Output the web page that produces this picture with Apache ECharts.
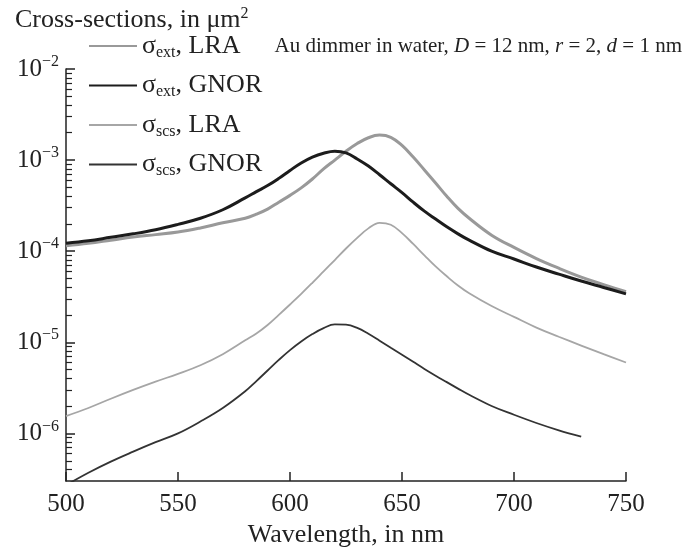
<!DOCTYPE html>
<html><head><meta charset="utf-8">
<script src="https://cdn.jsdelivr.net/npm/echarts@6/dist/echarts.min.js"></script>
<style>html,body{margin:0;padding:0;background:#fff}#c{width:690px;height:550px}</style>
</head><body><div id="c"></div>
<script>
// Wavelength grid (nm)
const wavelength = [500,510,520,530,540,550,560,570,580,585,590,595,600,605,610,615,620,625,630,635,640,645,650,655,660,665,670,675,680,690,700,710,720,730,740,750];
// Cross-sections (um^2)
const extLRA  = [1.15e-4,1.22e-4,1.32e-4,1.43e-4,1.52e-4,1.62e-4,1.80e-4,2.05e-4,2.3e-4,2.55e-4,2.9e-4,3.45e-4,4.1e-4,4.95e-4,6.2e-4,8.0e-4,1.0e-3,1.25e-3,1.52e-3,1.76e-3,1.88e-3,1.78e-3,1.45e-3,1.08e-3,7.8e-4,5.6e-4,4.0e-4,2.95e-4,2.3e-4,1.5e-4,1.1e-4,8.3e-5,6.5e-5,5.2e-5,4.3e-5,3.6e-5];
const extGNOR = [1.22e-4,1.30e-4,1.42e-4,1.55e-4,1.72e-4,1.97e-4,2.3e-4,2.85e-4,3.85e-4,4.5e-4,5.25e-4,6.3e-4,7.7e-4,9.3e-4,1.08e-3,1.19e-3,1.25e-3,1.2e-3,1.03e-3,8.6e-4,6.9e-4,5.5e-4,4.4e-4,3.45e-4,2.75e-4,2.25e-4,1.85e-4,1.55e-4,1.32e-4,1.0e-4,8.2e-5,6.7e-5,5.6e-5,4.7e-5,4.0e-5,3.4e-5];
const scsLRA  = [1.55e-6,1.9e-6,2.4e-6,3.0e-6,3.7e-6,4.5e-6,5.6e-6,7.4e-6,1.05e-5,1.25e-5,1.55e-5,2.0e-5,2.6e-5,3.4e-5,4.5e-5,6.0e-5,8.0e-5,1.07e-4,1.4e-4,1.78e-4,2.05e-4,1.95e-4,1.58e-4,1.2e-4,9.0e-5,6.8e-5,5.3e-5,4.2e-5,3.45e-5,2.5e-5,1.9e-5,1.45e-5,1.15e-5,9.2e-6,7.4e-6,6.0e-6];
const scsGNOR = [2.7e-7,3.7e-7,4.9e-7,6.3e-7,8.0e-7,1.0e-6,1.35e-6,1.9e-6,2.9e-6,3.75e-6,4.9e-6,6.4e-6,8.2e-6,1.02e-5,1.23e-5,1.43e-5,1.57e-5,1.56e-5,1.44e-5,1.24e-5,1.04e-5,8.7e-6,7.3e-6,6.1e-6,5.1e-6,4.3e-6,3.65e-6,3.1e-6,2.65e-6,2.0e-6,1.6e-6,1.3e-6,1.08e-6,9.2e-7,null,null];
// Axis ticks
const xTicks = [500,550,600,650,700,750];
const yMajor = [1e-6,1e-5,1e-4,1e-3,1e-2];
const yDecades = [1e-7,1e-6,1e-5,1e-4,1e-3];
const yMinorMult = [2,3,4,5,6,7,8,9];
const yMin = 3e-7, yMax = 1e-2;
const seriesNames = ['ext|, LRA','ext|, GNOR','scs|, LRA','scs|, GNOR'];

const yMinor = [];
yDecades.forEach(d => yMinorMult.forEach(m => { const v = m * d; if (v > yMin * 1.01 && v < yMax) yMinor.push(v); }));

function pairs(arr) { return wavelength.map((w, i) => [w, arr[i]]); }

const FONT = 'Liberation Serif';
const INK = '#222';

const chart = echarts.init(document.getElementById('c'));
chart.setOption({
  backgroundColor: '#fff',
  animation: false,
  title: [
    { text: '{a|Cross-sections, in μm}{sup|2}', left: 10, top: 1,
      textStyle: { fontWeight: 'normal', rich: { a: { fontFamily: FONT, fontSize: 26, fontWeight: 'normal', color: INK }, sup: { fontFamily: FONT, fontSize: 16, fontWeight: 'normal', color: INK, padding: [0,0,13,0] } } } },
    { text: '{a|Au dimmer in water, }{i|D}{a| = 12 nm, }{i|r}{a| = 2, }{i|d}{a| = 1 nm}', right: 3, top: 31,
      textStyle: { fontWeight: 'normal', rich: { a: { fontFamily: FONT, fontSize: 21, fontWeight: 'normal', color: INK }, i: { fontFamily: FONT, fontSize: 21, fontWeight: 'normal', fontStyle: 'italic', color: INK } } } }
  ],
  legend: {
    orient: 'vertical', left: 83, top: 28, itemWidth: 48, itemHeight: 14, itemGap: 12,
    itemStyle: { opacity: 0 },
    formatter: function (name) { const p = name.split('|'); return '{s|σ}{sub|' + p[0] + '}{s|' + p[1] + '}'; },
    textStyle: { fontFamily: FONT, fontSize: 26, color: INK,
      rich: { s: { fontFamily: FONT, fontSize: 26, color: INK }, sub: { fontFamily: FONT, fontSize: 16, color: INK, padding: [13,0,0,0] } } },
    data: seriesNames
  },
  grid: { left: 66, right: 64, top: 69, bottom: 69, outerBoundsMode: 'none', containLabel: false },
  xAxis: {
    type: 'value', min: 500, max: 750, interval: 50,
    axisLine: { show: true, lineStyle: { color: INK, width: 1.5 } },
    axisTick: { inside: true, length: 9, lineStyle: { color: INK, width: 1.5 } },
    axisLabel: { fontFamily: FONT, fontSize: 25, color: INK, margin: 11, customValues: xTicks },
    splitLine: { show: false },
    name: 'Wavelength, in nm', nameLocation: 'middle', nameGap: 33,
    nameTextStyle: { fontFamily: FONT, fontSize: 26, color: INK }
  },
  yAxis: [
    { type: 'log', min: yMin, max: yMax,
      axisLine: { show: true, lineStyle: { color: INK, width: 1.5 } },
      axisTick: { inside: true, length: 9, customValues: yMajor, lineStyle: { color: INK, width: 1.5 } },
      axisLabel: { customValues: yMajor, margin: 7, formatter: function (v) { const e = Math.round(Math.log10(v)); return '{b|10}{sup|−' + Math.abs(e) + '}'; },
        rich: { b: { fontFamily: FONT, fontSize: 25, color: INK }, sup: { fontFamily: FONT, fontSize: 16, color: INK, padding: [0,0,14,0] } } },
      splitLine: { show: false }, minorTick: { show: false } },
    { type: 'log', min: yMin, max: yMax, position: 'left',
      axisLine: { show: false },
      axisTick: { inside: true, length: 6, customValues: yMinor, lineStyle: { color: INK, width: 1.2 } },
      axisLabel: { show: false }, splitLine: { show: false } }
  ],
  series: [
    { name: seriesNames[0], type: 'line', data: pairs(extLRA), yAxisIndex: 0, symbol: 'none', smooth: 0.4, z: 3,
      lineStyle: { color: '#999', width: 3 }, itemStyle: { color: '#999' } },
    { name: seriesNames[1], type: 'line', data: pairs(extGNOR), yAxisIndex: 0, symbol: 'none', smooth: 0.4, z: 4,
      lineStyle: { color: '#1c1c1c', width: 3 }, itemStyle: { color: '#1c1c1c' } },
    { name: seriesNames[2], type: 'line', data: pairs(scsLRA), yAxisIndex: 0, symbol: 'none', smooth: 0.4, z: 3,
      lineStyle: { color: '#a6a6a6', width: 1.8 }, itemStyle: { color: '#a6a6a6' } },
    { name: seriesNames[3], type: 'line', data: pairs(scsGNOR), yAxisIndex: 0, symbol: 'none', smooth: 0.4, z: 3, connectNulls: false,
      lineStyle: { color: '#333', width: 1.8 }, itemStyle: { color: '#333' } }
  ]
});
</script></body></html>
